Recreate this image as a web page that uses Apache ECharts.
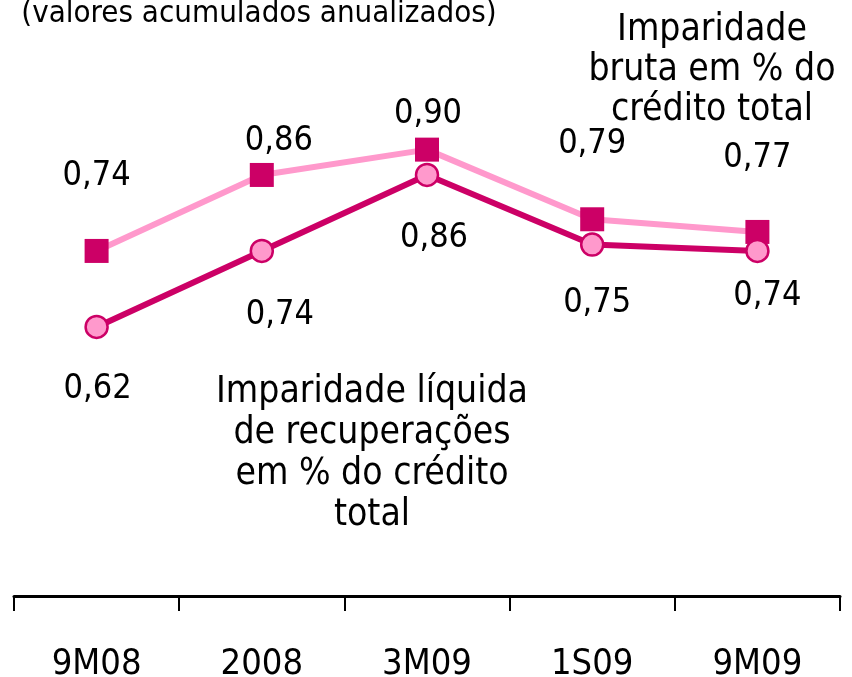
<!DOCTYPE html>
<html>
<head>
<meta charset="utf-8">
<script src="https://cdn.jsdelivr.net/npm/echarts@6/dist/echarts.min.js"></script>
<style>
  html, body { margin: 0; padding: 0; background: #fff; }
  #chart { width: 852px; height: 677px; }
</style>
</head>
<body>
<div id="chart"></div>
<script>
const categories = ["9M08", "2008", "3M09", "1S09", "9M09"];
const grossImpairment = [0.74, 0.86, 0.90, 0.79, 0.77];
const netImpairment = [0.62, 0.74, 0.86, 0.75, 0.74];
// label offsets picked by eye from the original
const grossLabelOffsets = [[0, -41], [17, 0], [1, -1], [0, -41], [0, -40]];
const netLabelOffsets = [[1, 28], [18, 30], [7, 29], [5, 24], [10, 11]];

const FONT = "'DejaVu Sans Condensed', 'DejaVu Sans', sans-serif";
const DARK = "#CC0066";
const LIGHT = "#FF99CC";

const fmt = (v) => v.toFixed(2).replace(".", ",");

const chartDom = document.getElementById("chart");
const chart = echarts.init(chartDom);

const option = {
  animation: false,
  backgroundColor: "#fff",
  textStyle: { fontFamily: FONT },
  grid: { left: 14, right: 12, top: 23, bottom: 81, containLabel: false, outerBoundsMode: "none" },
  xAxis: {
    type: "category",
    data: categories,
    axisLine: { lineStyle: { color: "#000", width: 3 } },
    axisTick: { show: true, interval: 0, length: 15, lineStyle: { color: "#000", width: 2 } },
    axisLabel: { color: "#000", fontSize: 36, fontFamily: FONT, margin: 51 },
    splitLine: { show: false },
  },
  yAxis: {
    type: "value",
    show: false,
    min: 0.195,
    max: 1.1,
    splitLine: { show: false },
  },
  series: [
    {
      name: "Imparidade bruta",
      type: "line",
      data: grossImpairment.map((v, i) => ({
        value: v,
        label: { offset: grossLabelOffsets[i] },
      })),
      symbol: "rect",
      symbolSize: 24,
      lineStyle: { color: LIGHT, width: 6 },
      itemStyle: { color: DARK, borderWidth: 0 },
      label: {
        show: true,
        position: "top",
        fontSize: 34,
        color: "#000",
        fontFamily: FONT,
        formatter: (p) => fmt(p.value),
      },
      z: 2,
    },
    {
      name: "Imparidade líquida",
      type: "line",
      data: netImpairment.map((v, i) => ({
        value: v,
        label: { offset: netLabelOffsets[i] },
      })),
      symbol: "circle",
      symbolSize: 22,
      lineStyle: { color: DARK, width: 6 },
      itemStyle: { color: LIGHT, borderColor: DARK, borderWidth: 2.5 },
      label: {
        show: true,
        position: "bottom",
        fontSize: 34,
        color: "#000",
        fontFamily: FONT,
        formatter: (p) => fmt(p.value),
      },
      z: 3,
    },
  ],
  graphic: [
    {
      type: "text",
      x: 259,
      y: 14,
      style: {
        text: "(valores acumulados anualizados)",
        font: "31px " + FONT,
        align: "center",
        verticalAlign: "middle",
        fill: "#000",
      },
    },
    {
      type: "text",
      x: 712,
      y: 10,
      style: {
        text: "Imparidade\nbruta em % do\ncrédito total",
        font: "37px " + FONT,
        lineHeight: 40,
        align: "center",
        verticalAlign: "top",
        fill: "#000",
      },
    },
    {
      type: "text",
      x: 372,
      y: 372,
      style: {
        text: "Imparidade líquida\nde recuperações\nem % do crédito\ntotal",
        font: "37px " + FONT,
        lineHeight: 41,
        align: "center",
        verticalAlign: "top",
        fill: "#000",
      },
    },
  ],
};

option && chart.setOption(option, true);
</script>
</body>
</html>
